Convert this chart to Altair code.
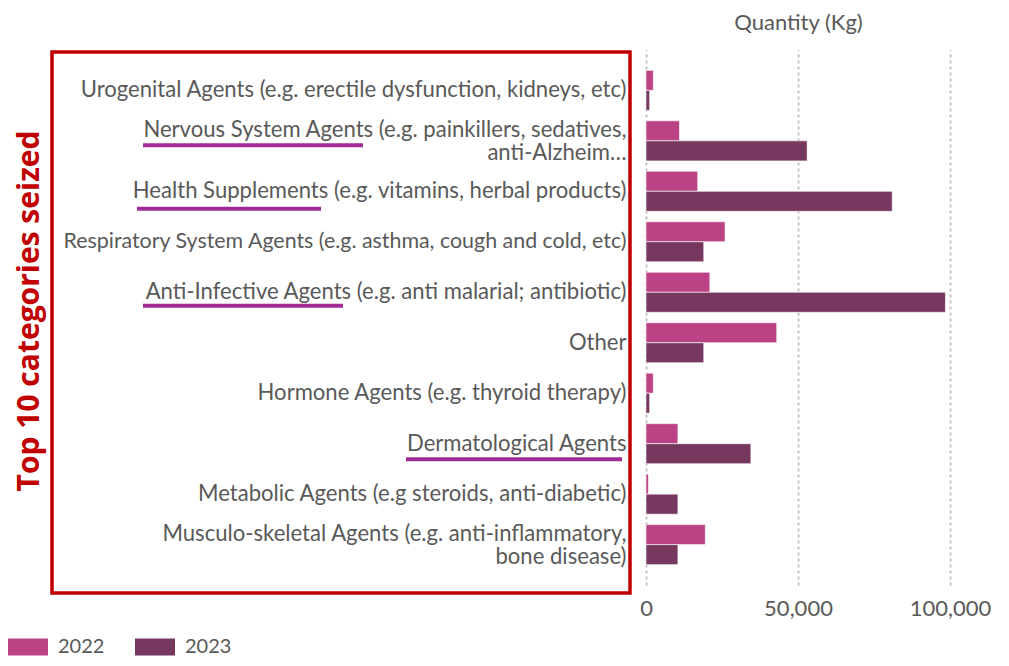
import altair as alt
import pandas as pd

categories = [
    "Urogenital Agents (e.g. erectile dysfunction, kidneys, etc)",
    "Nervous System Agents (e.g. painkillers, sedatives,|anti-Alzheim…",
    "Health Supplements (e.g. vitamins, herbal products)",
    "Respiratory System Agents (e.g. asthma, cough and cold, etc)",
    "Anti-Infective Agents (e.g. anti malarial; antibiotic)",
    "Other",
    "Hormone Agents (e.g. thyroid therapy)",
    "Dermatological Agents",
    "Metabolic Agents (e.g steroids, anti-diabetic)",
    "Musculo-skeletal Agents (e.g. anti-inflammatory,|bone disease)",
]
q2022 = [2400, 11000, 17000, 26000, 21000, 43000, 2400, 10500, 800, 19500]
q2023 = [1200, 53000, 81000, 19000, 98500, 19000, 1200, 34500, 10500, 10500]
years = ["2022", "2023"]
colors = ["#BB4285", "#76385E"]
x_ticks = [0, 50000, 100000]

rows = []
for c, a, b in zip(categories, q2022, q2023):
    rows.append({"category": c, "year": years[0], "qty": a})
    rows.append({"category": c, "year": years[1], "qty": b})
df = pd.DataFrame(rows)

W, H = 304, 535
STEP = H / 10.6
FONT = "Lato"
FS = 22
GRAY = "#595959"

y_enc = alt.Y(
    "category:N",
    sort=categories,
    scale=alt.Scale(paddingInner=0, paddingOuter=0.3),
    axis=alt.Axis(
        title=None,
        labelExpr="split(datum.label, '|')",
        labelFont=FONT,
        labelFontSize={"condition": {"test": "indexof(datum.value, 'Respiratory') == 0", "value": 21.4}, "value": 22.1},
        labelColor=GRAY,
        labelLimit=700,
        labelPadding=20,
        labelLineHeight=23,
        labelOffset={"condition": {"test": "indexof(datum.value, '|') >= 0", "value": -11}, "value": 0},
        ticks=False,
        domain=False,
        grid=False,
    ),
)

bars = alt.Chart(df).mark_bar(stroke="white", strokeWidth=0.6).encode(
    x=alt.X(
        "qty:Q",
        scale=alt.Scale(domain=[0, 100000], nice=False),
        axis=alt.Axis(
            values=x_ticks,
            labelExpr="format(datum.value, ',')",
            title="Quantity (Kg)",
            titleFont=FONT,
            titleFontSize=FS,
            titleFontWeight="normal",
            titleColor=GRAY,
            titleY=-563,
            titleX=W / 2,
            titleBaseline="middle",
            labelFont=FONT,
            labelFontSize=FS,
            labelColor=GRAY,
            labelPadding=13,
            labelFlush=False,
            ticks=False,
            domain=False,
            grid=True,
            gridColor="#c4c4c4",
            gridDash=[3, 3],
            gridWidth=2,
        ),
    ),
    y=y_enc,
    yOffset=alt.YOffset("year:N", scale=alt.Scale(paddingInner=0, paddingOuter=0.26)),
    color=alt.Color(
        "year:N",
        scale=alt.Scale(domain=years, range=colors),
        legend=alt.Legend(
            title=None,
            orient="none",
            legendX=-638,
            legendY=577,
            direction="horizontal",
            symbolType="M-1,-0.43H1V0.43H-1Z",
            symbolSize=1600,
            symbolStrokeWidth=0,
            symbolOpacity=1,
            labelFont=FONT,
            labelFontSize=20,
            labelColor=GRAY,
            labelOffset=10,
            columnPadding=30,
            padding=0,
        ),
    ),
)

box = alt.Chart(pd.DataFrame({"a": [0]})).mark_rect(
    fillOpacity=0, stroke="#C00000", strokeWidth=3.5
).encode(
    x=alt.value(-594), x2=alt.value(-16), y=alt.value(2), y2=alt.value(543)
)

side = alt.Chart(pd.DataFrame({"t": ["Top 10 categories seized"]})).mark_text(
    angle=270, align="center", baseline="middle", font="Open Sans",
    fontWeight="bold", fontSize=30, color="#C00000"
).encode(text="t:N", x=alt.value(-616), y=alt.value(261))

underline_specs = [
    (categories[1], -503, -283, 4.5),
    (categories[2], -509, -325, 17.5),
    (categories[4], -503, -303, 13.5),
    (categories[7], -240, -24, 15.5),
]
ul_layers = []
for cat, x1, x2, dy in underline_specs:
    d = pd.DataFrame({"category": [cat]})
    ul_layers.append(
        alt.Chart(d).mark_rule(color="#A12C95", strokeWidth=4).encode(
            y=alt.Y("category:N", sort=categories, bandPosition=0.5 + dy / STEP),
            x=alt.value(x1),
            x2=alt.value(x2),
        )
    )

chart = alt.layer(bars, box, side, *ul_layers).properties(
    width=W,
    height=H,
    autosize=alt.AutoSizeParams(type="none"),
    padding={"left": 638, "top": 42, "right": 48, "bottom": 73},
).configure_view(stroke=None)

chart.save("out.html", embed_options={"renderer": "svg", "actions": False})
